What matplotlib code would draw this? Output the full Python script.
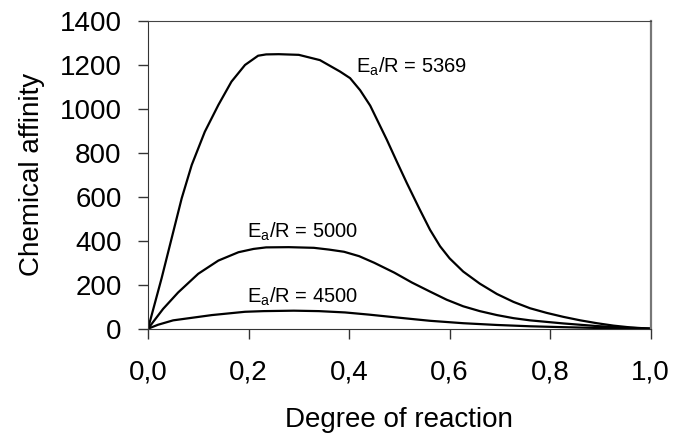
import matplotlib.pyplot as plt
import numpy as np

plt.rcParams['font.family'] = ['Liberation Sans', 'DejaVu Sans']

# degree of reaction vs chemical affinity
x_5369 = [0.0, 0.027, 0.047, 0.067, 0.087, 0.113, 0.140, 0.166, 0.193, 0.219, 0.235,
          0.260, 0.300, 0.342, 0.382, 0.402, 0.422, 0.442, 0.475, 0.495, 0.515,
          0.540, 0.561, 0.581, 0.600, 0.627, 0.660, 0.694, 0.727, 0.760, 0.793,
          0.826, 0.860, 0.893, 0.926, 0.959, 1.0]
y_5369 = [0, 229, 411, 593, 745, 896, 1018, 1124, 1200, 1242, 1248,
          1249, 1246, 1222, 1170, 1140, 1085, 1015, 860, 760, 662,
          545, 450, 375, 320, 260, 205, 158, 122, 93, 72,
          54, 38, 25, 14, 6, 0]

x_5000 = [0.0, 0.030, 0.060, 0.100, 0.140, 0.180, 0.210, 0.235, 0.280, 0.330,
          0.360, 0.390, 0.420, 0.450, 0.490, 0.525, 0.560, 0.594, 0.627, 0.660,
          0.694, 0.727, 0.760, 0.826, 0.893, 0.950, 1.0]
y_5000 = [0, 90, 165, 250, 310, 348, 363, 370, 371, 368,
          360, 350, 330, 300, 255, 210, 170, 132, 102, 80,
          62, 48, 38, 24, 12, 5, 0]

x_4500 = [0.0, 0.020, 0.050, 0.127, 0.193, 0.230, 0.290, 0.340, 0.392, 0.440,
          0.491, 0.530, 0.561, 0.627, 0.694, 0.760, 0.826, 0.900, 1.0]
y_4500 = [0, 18, 38, 62, 77, 80, 82, 80, 74, 64,
          52, 43, 36, 25, 17, 11, 7, 3, 0]

labels = ['E$_\\mathregular{a}$/R = 5369', 'E$_\\mathregular{a}$/R = 5000',
          'E$_\\mathregular{a}$/R = 4500']

fig = plt.figure(figsize=(6.73, 4.43), dpi=100)
ax = fig.add_axes([0.2199, 0.258, 0.747, 0.6946])

for xs, ys in [(x_5369, y_5369), (x_5000, y_5000), (x_4500, y_4500)]:
    ax.plot(xs, ys, color='black', lw=1.6)

ax.text(0.413, 1165, labels[0], fontsize=14.5)
ax.text(0.196, 415, labels[1], fontsize=14.5)
ax.text(0.196, 118, labels[2], fontsize=14.5)

ax.set_xlim(0, 1.0)
ax.set_ylim(0, 1400)
ax.set_xticks(np.arange(0, 1.01, 0.2))
ax.set_xticklabels([f'{v:.1f}'.replace('.', ',') for v in np.arange(0, 1.01, 0.2)])
ax.set_yticks(np.arange(0, 1401, 200))

ax.tick_params(axis='both', labelsize=20, direction='out', length=7, width=1,
               color='#333333')
ax.tick_params(axis='x', pad=15)
ax.tick_params(axis='y', pad=12)

ax.spines['left'].set_color('#333333')
ax.spines['bottom'].set_color('#333333')
ax.spines['top'].set_color('#444444')
ax.spines['top'].set_linewidth(0.8)
ax.spines['right'].set_color('#777777')
ax.spines['right'].set_linewidth(1.6)

ax.set_ylabel('Chemical affinity', fontsize=20)
ax.set_xlabel('Degree of reaction', fontsize=20)
ax.yaxis.set_label_coords(-0.205, 0.5)
ax.xaxis.set_label_coords(0.5, -0.255)
ax.xaxis.label.set_va('top')

plt.savefig('out.png', dpi=100)
